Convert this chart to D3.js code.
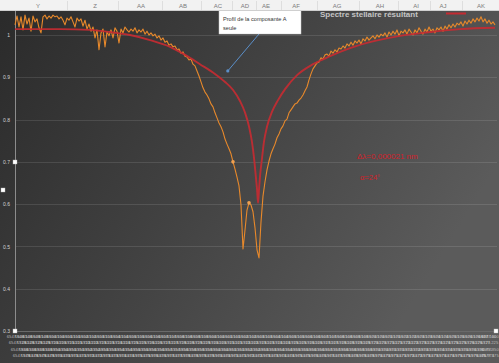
<!DOCTYPE html>
<html>
<head>
<meta charset="utf-8">
<script src="https://cdn.jsdelivr.net/npm/d3@7"></script>
<style>
  html, body { margin: 0; padding: 0; background: #3a3a3a; overflow: hidden; }
  svg { display: block; }
</style>
</head>
<body>
<svg id="chart" width="499" height="363"></svg>
<script>
// Observed spectrum around H-alpha, sampled every 0.125 Å from 6547.6 Å
const lambdaStart = 6547.6;
const lambdaStep = 0.125;
const spectrum = [
  1.024, 1.045, 1.019, 1.043, 1.012, 1.047, 1.026, 1.040, 1.009, 1.045,
  1.031, 1.038, 1.017, 1.005, 1.043, 1.047, 1.038, 1.045, 1.040, 1.047,
  1.043, 1.045, 1.038, 1.043, 1.035, 1.024, 1.040, 1.035, 1.043, 1.031,
  1.019, 1.040, 1.033, 1.038, 1.021, 1.035, 1.014, 1.026, 1.009, 1.019,
  0.993, 1.012, 0.965, 1.005, 1.014, 0.972, 1.007, 0.998, 1.012, 0.993,
  1.017, 1.009, 0.981, 1.014, 1.005, 1.019, 1.012, 1.007, 1.014, 1.009,
  1.017, 1.005, 1.012, 1.007, 1.014, 1.002, 1.009, 1.000, 1.005, 0.998,
  1.002, 0.993, 0.998, 0.988, 0.993, 0.983, 0.986, 0.976, 0.979, 0.972,
  0.974, 0.965, 0.967, 0.957, 0.960, 0.950, 0.948, 0.941, 0.943, 0.931,
  0.927, 0.915, 0.903, 0.889, 0.875, 0.865, 0.858, 0.849, 0.837, 0.830,
  0.816, 0.804, 0.792, 0.783, 0.771, 0.754, 0.742, 0.731, 0.719, 0.700,
  0.683, 0.664, 0.643, 0.598, 0.494, 0.539, 0.586, 0.603, 0.598, 0.582,
  0.544, 0.492, 0.473, 0.558, 0.619, 0.653, 0.681, 0.702, 0.719, 0.731,
  0.742, 0.757, 0.766, 0.778, 0.785, 0.797, 0.801, 0.816, 0.823, 0.830,
  0.837, 0.839, 0.846, 0.851, 0.858, 0.868, 0.877, 0.894, 0.908, 0.920,
  0.927, 0.934, 0.936, 0.946, 0.943, 0.953, 0.955, 0.950, 0.962, 0.957,
  0.965, 0.960, 0.969, 0.967, 0.974, 0.969, 0.979, 0.974, 0.983, 0.976,
  0.986, 0.981, 0.988, 0.979, 0.991, 0.986, 0.995, 0.988, 0.993, 0.998,
  0.991, 1.000, 0.995, 1.002, 0.998, 1.005, 0.995, 1.007, 1.000, 1.009,
  1.002, 1.012, 0.998, 1.009, 1.005, 1.012, 1.002, 1.014, 1.007, 1.000,
  1.012, 1.005, 1.017, 1.009, 1.002, 1.014, 1.007, 1.019, 1.009, 1.014,
  1.005, 1.017, 1.012, 1.019, 1.009, 1.021, 1.014, 1.024, 1.017, 1.026,
  1.019, 1.028, 1.024, 1.031, 1.021, 1.033, 1.026, 1.035, 1.028, 1.038,
  1.031, 1.040, 1.033, 1.043, 1.031, 1.038, 1.028, 1.035, 1.026, 1.031,
  1.024
];
// Highlighted samples of the spectrum (indices)
const markedSamples = [109, 117];

// Profile of component A alone
const profileLambda = [
  6547.60, 6550.41, 6552.29, 6553.54, 6554.79, 6556.04, 6557.29, 6558.23,
  6559.16, 6560.10, 6560.73, 6561.23, 6561.66, 6561.98, 6562.23, 6562.41,
  6562.54, 6562.66, 6562.73, 6562.79, 6562.85, 6562.91, 6563.04, 6563.16,
  6563.35, 6563.66, 6564.04, 6564.48, 6565.23, 6566.23, 6567.29, 6568.54,
  6570.10, 6571.66, 6573.54, 6575.41, 6577.60
];
const profileValue = [
  1.014, 1.014, 1.012, 1.007, 1.000, 0.988, 0.972, 0.953,
  0.931, 0.908, 0.889, 0.870, 0.844, 0.816, 0.783, 0.747,
  0.709, 0.662, 0.634, 0.603, 0.634, 0.664, 0.709, 0.747,
  0.783, 0.818, 0.846, 0.872, 0.905, 0.931, 0.950, 0.969,
  0.986, 0.998, 1.007, 1.014, 1.017
];

const yTicks = [0.3, 0.4, 0.5, 0.6, 0.7, 0.8, 0.9, 1.0];
const columnLetters = ["Y", "Z", "AA", "AB", "AC", "AD", "AE", "AF", "AG", "AH", "AI", "AJ", "AK"];
const chartTitle = "Spectre stellaire résultant";
const annotationText = ["Profil de la composante A", "seule"];
const annotationAnchor = { lambda: 6560.9, value: 0.915 };
const noteLines = ["Δλ=0,000021 nm", "α=24°"];

// ---- layout ----
const W = 499, H = 363;
const headerH = 11;
const plot = { left: 15, right: 495, top: -7, bottom: 331 };
const columnCenters = [38, 95, 141, 183, 218, 245, 266, 296, 337, 380, 416, 443, 481];
const font = "Liberation Sans, Arial, sans-serif";

const svg = d3.select("#chart");
const defs = svg.append("defs");

const bg = defs.append("linearGradient").attr("id", "bg")
  .attr("x1", 0).attr("y1", 0).attr("x2", 1).attr("y2", 0.45);
bg.append("stop").attr("offset", "0%").attr("stop-color", "#2a2a2a");
bg.append("stop").attr("offset", "55%").attr("stop-color", "#444444");
bg.append("stop").attr("offset", "100%").attr("stop-color", "#5b5b5b");

svg.append("rect").attr("x", 0).attr("y", 0).attr("width", W).attr("height", H)
  .attr("fill", "url(#bg)");

const nSamples = spectrum.length;
const lambdaEnd = lambdaStart + (nSamples - 1) * lambdaStep;
const sampleLambda = d3.range(nSamples).map(i => lambdaStart + i * lambdaStep);

const x = d3.scaleLinear().domain([lambdaStart, lambdaEnd]).range([plot.left, plot.right]);
const y = d3.scaleLinear().domain([0.3, 1.0]).range([plot.bottom, 35]);

// gridlines
svg.append("g").selectAll("line").data(yTicks.slice(1)).join("line")
  .attr("x1", plot.left).attr("x2", plot.right + 2)
  .attr("y1", d => Math.round(y(d)) + 0.5).attr("y2", d => Math.round(y(d)) + 0.5)
  .attr("stroke", "#ffffff").attr("stroke-opacity", 0.11);

// y axis
const yAxis = d3.axisLeft(y).tickValues(yTicks).tickSize(0).tickPadding(5)
  .tickFormat(d => d === 1 ? "1" : d3.format(".1f")(d));
const gy = svg.append("g").attr("transform", `translate(${plot.left},0)`).call(yAxis);
gy.select(".domain").remove();
gy.selectAll("text").attr("fill", "#d4d4d4").attr("font-size", 5).attr("font-family", font);
svg.append("line").attr("x1", plot.left + 0.5).attr("x2", plot.left + 0.5)
  .attr("y1", plot.top).attr("y2", plot.bottom)
  .attr("stroke", "#8c8c8c").attr("stroke-width", 1);
svg.append("line").attr("x1", plot.left).attr("x2", plot.right + 2)
  .attr("y1", plot.bottom + 0.5).attr("y2", plot.bottom + 0.5)
  .attr("stroke", "#6a6a6a").attr("stroke-width", 1);

// one category label per sample, staggered on four crowded rows
const rowY = [335, 341.5, 348, 354.5];
const labelHalf = 8.5;
rowY.forEach((ry, k) => {
  const vals = sampleLambda.filter((_, i) => i % 4 === k);
  const ax = d3.axisBottom(x).tickValues(vals).tickSize(0).tickPadding(0)
    .tickFormat(d3.format(".3f"));
  const g = svg.append("g").attr("transform", `translate(0,${ry})`).call(ax);
  g.select(".domain").remove();
  g.selectAll(".tick text")
    .attr("x", d => Math.min(0, W - 1 - labelHalf - x(d)))
    .attr("fill", "#d0d0d0").attr("fill-opacity", 0.85)
    .attr("font-size", 4.2).attr("font-family", font);
});

// title and legend stroke, tucked just under the sheet header
svg.append("text").attr("x", 320).attr("y", 17).text(chartTitle)
  .attr("font-size", 8).attr("font-weight", "bold").attr("fill", "#c4c4c4")
  .attr("font-family", font);
svg.append("line").attr("x1", 446).attr("x2", 466).attr("y1", 13.5).attr("y2", 13.5)
  .attr("stroke", "#c42b32").attr("stroke-width", 2);

// observed spectrum
const line = d3.line().x((d, i) => x(sampleLambda[i])).y(d => y(d));
svg.append("path").datum(spectrum).attr("d", line)
  .attr("fill", "none").attr("stroke", "#e8892b").attr("stroke-width", 1.1)
  .attr("stroke-linejoin", "round");
svg.append("g").selectAll("circle").data(markedSamples).join("circle")
  .attr("cx", i => x(sampleLambda[i])).attr("cy", i => y(spectrum[i])).attr("r", 1.8)
  .attr("fill", "#f0a050");

// component A profile
const profileLine = d3.line().curve(d3.curveMonotoneX)
  .x((d, i) => x(profileLambda[i])).y(d => y(d));
svg.append("path").datum(profileValue).attr("d", profileLine)
  .attr("fill", "none").attr("stroke", "#c42b32").attr("stroke-width", 1.9)
  .attr("stroke-opacity", 0.92);

// side notes
svg.append("text").attr("x", 357).attr("y", 159).text(noteLines[0])
  .attr("font-size", 8).attr("fill", "#d3202a").attr("font-family", font);
svg.append("text").attr("x", 360).attr("y", 180).text(noteLines[1])
  .attr("font-size", 7.5).attr("fill", "#d3202a").attr("font-family", font);

// callout
const ax0 = x(annotationAnchor.lambda), ay0 = y(annotationAnchor.value);
svg.append("line").attr("x1", 259).attr("y1", 34).attr("x2", ax0).attr("y2", ay0)
  .attr("stroke", "#5b8fc9").attr("stroke-width", 1);
svg.append("circle").attr("cx", ax0).attr("cy", ay0).attr("r", 1.6).attr("fill", "#5b8fc9");
svg.append("rect").attr("x", 219).attr("y", 4).attr("width", 82).attr("height", 30)
  .attr("fill", "#ffffff").attr("stroke", "#c8c8c8").attr("stroke-width", 0.5);
annotationText.forEach((t, i) => {
  svg.append("text").attr("x", 223).attr("y", 21 + i * 8.5).text(t)
    .attr("font-size", 5.6).attr("fill", "#333333").attr("font-family", font);
});

// selection handles
[[plot.left, 162], [3, 190], [plot.left, plot.bottom], [496, plot.bottom]].forEach(([hx, hy]) => {
  svg.append("rect").attr("x", hx - 2).attr("y", hy - 2).attr("width", 4).attr("height", 4)
    .attr("fill", "#ffffff").attr("stroke", "#bbbbbb").attr("stroke-width", 0.4);
});

// spreadsheet column header strip
svg.append("rect").attr("x", 0).attr("y", 0).attr("width", W).attr("height", headerH)
  .attr("fill", "#f2f2f2");
svg.append("line").attr("x1", 0).attr("x2", W).attr("y1", headerH - 0.5).attr("y2", headerH - 0.5)
  .attr("stroke", "#cfcfcf");
const sepX = columnCenters.slice(0, -1).map((c, i) => (c + columnCenters[i + 1]) / 2);
svg.append("g").selectAll("line").data(sepX).join("line")
  .attr("x1", d => Math.round(d) + 0.5).attr("x2", d => Math.round(d) + 0.5)
  .attr("y1", 1).attr("y2", headerH - 1).attr("stroke", "#dedede");
svg.append("g").selectAll("text").data(columnLetters).join("text")
  .attr("x", (d, i) => columnCenters[i]).attr("y", 8).attr("text-anchor", "middle")
  .text(d => d).attr("font-size", 6).attr("fill", "#7a7a7a").attr("font-family", font);
</script>
</body>
</html>
